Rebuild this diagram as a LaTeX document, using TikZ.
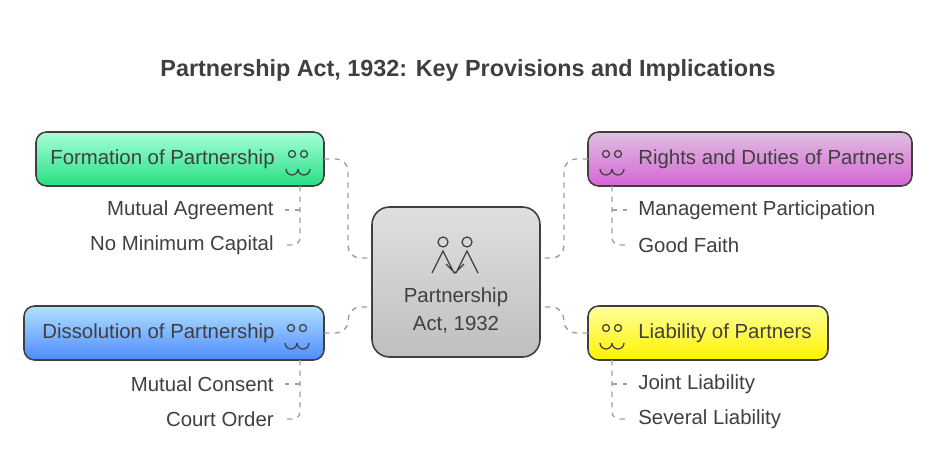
\documentclass[tikz,border=0pt]{standalone}
\usepackage{fontspec}
\setmainfont{Liberation Sans}
\usetikzlibrary{positioning}
\definecolor{ink}{HTML}{3F3F3F}
\definecolor{dashc}{HTML}{A0A0A0}
\tikzset{
    lbl/.style={text=ink, inner sep=0pt, font=\fontsize{11.6}{14}\selectfont},
    dline/.style={draw=dashc, line width=0.8pt, dash pattern=on 3pt off 3pt},
    ico/.style={draw=ink, line width=0.7pt}
}
\begin{document}
\begin{tikzpicture}[x=0.02cm, y=-0.02cm]
    \useasboundingbox (0,0) rectangle (936,459);

    \node[text=ink, font=\bfseries\fontsize{13.3}{16}\selectfont] (title) at (468,70) {Partnership Act, 1932: Key Provisions and Implications};

    % centre
    \shade[top color=gray!25, bottom color=gray!50, draw=ink, line width=0.9pt, rounded corners=10pt] (372,207) rectangle (540,357);
    \coordinate (cl1) at (372,258);
    \coordinate (cl2) at (372,307);
    \coordinate (cr1) at (540,258);
    \coordinate (cr2) at (540,307);
    \node[lbl, align=center] (centre) at (456,310) {Partnership\\[2pt]Act, 1932};
    \draw[ico] (443,242) circle (5) (467,242) circle (5);
    \draw[ico] (432,273) -- (443,251) -- (454,273) (456,273) -- (467,251) -- (478,273) (446,264) -- (455,273) -- (464,264);

    % boxes
    \shade[top color=green!45!cyan!35, bottom color=green!60!cyan!70!teal!85, draw=ink, line width=0.9pt, rounded corners=6pt] (36,132) rectangle (324,186);
    \node[lbl, anchor=west] (form) at (50,159) {Formation of Partnership};
    \shade[top color=violet!25, bottom color=violet!55!magenta!60, draw=ink, line width=0.9pt, rounded corners=6pt] (588,132) rectangle (912,186);
    \node[lbl, anchor=west] (rights) at (638,159) {Rights and Duties of Partners};
    \shade[top color=blue!40!cyan!30, bottom color=blue!65!cyan!70, draw=ink, line width=0.9pt, rounded corners=6pt] (24,306) rectangle (324,360);
    \node[lbl, anchor=west] (diss) at (42,333) {Dissolution of Partnership};
    \shade[top color=yellow!40, bottom color=yellow!90!orange, draw=ink, line width=0.9pt, rounded corners=6pt] (588,306) rectangle (828,360);
    \node[lbl, anchor=west] (liab) at (638,333) {Liability of Partners};

    % small icons
    \foreach \cx/\cy in {298/159, 612/159, 297/333, 612/333}{
        \draw[ico] (\cx-6,\cy-5) circle (3.5) (\cx+6,\cy-5) circle (3.5);
        \draw[ico] (\cx-12,\cy+10) arc (180:0:6) (\cx,\cy+10) arc (180:0:6);
    }

    % sub items
    \node[lbl, anchor=east] (mutagr) at (274,210) {Mutual Agreement};
    \node[lbl, anchor=east] (nomin) at (274,245) {No Minimum Capital};
    \node[lbl, anchor=west] (mgmt) at (638,210) {Management Participation};
    \node[lbl, anchor=west] (good) at (638,245) {Good Faith};
    \node[lbl, anchor=east] (mutcon) at (274,384) {Mutual Consent};
    \node[lbl, anchor=east] (court) at (274,419) {Court Order};
    \node[lbl, anchor=west] (joint) at (638,384) {Joint Liability};
    \node[lbl, anchor=west] (sev) at (638,419) {Several Liability};

    \draw[dline] (300,186) -- (300,238) to[out=-90, in=0] (292,245) -- ([xshift=6pt]nomin.east);
    \draw[dline] (300,210) -- ([xshift=6pt]mutagr.east);
    \draw[dline] (612,186) -- (612,238) to[out=-90, in=180] (620,245) -- ([xshift=-6pt]good.west);
    \draw[dline] (612,210) -- ([xshift=-6pt]mgmt.west);
    \draw[dline] (300,360) -- (300,412) to[out=-90, in=0] (292,419) -- ([xshift=6pt]court.east);
    \draw[dline] (300,384) -- ([xshift=6pt]mutcon.east);
    \draw[dline] (612,360) -- (612,412) to[out=-90, in=180] (620,419) -- ([xshift=-6pt]sev.west);
    \draw[dline] (612,384) -- ([xshift=-6pt]joint.west);

    % connectors
    \draw[dline] (324,159) -- (336,159) to[out=0, in=90] (348,171) -- (348,246) to[out=-90, in=180] (360,258) -- (cl1);
    \draw[dline] (588,159) -- (576,159) to[out=180, in=90] (564,171) -- (564,246) to[out=-90, in=0] (552,258) -- (cr1);
    \draw[dline] (324,333) -- (336,333) to[out=0, in=-90] (348,321) to[out=90, in=180] (360,307) -- (cl2);
    \draw[dline] (588,333) -- (576,333) to[out=180, in=-90] (564,321) to[out=90, in=0] (552,307) -- (cr2);
\end{tikzpicture}
\end{document}
